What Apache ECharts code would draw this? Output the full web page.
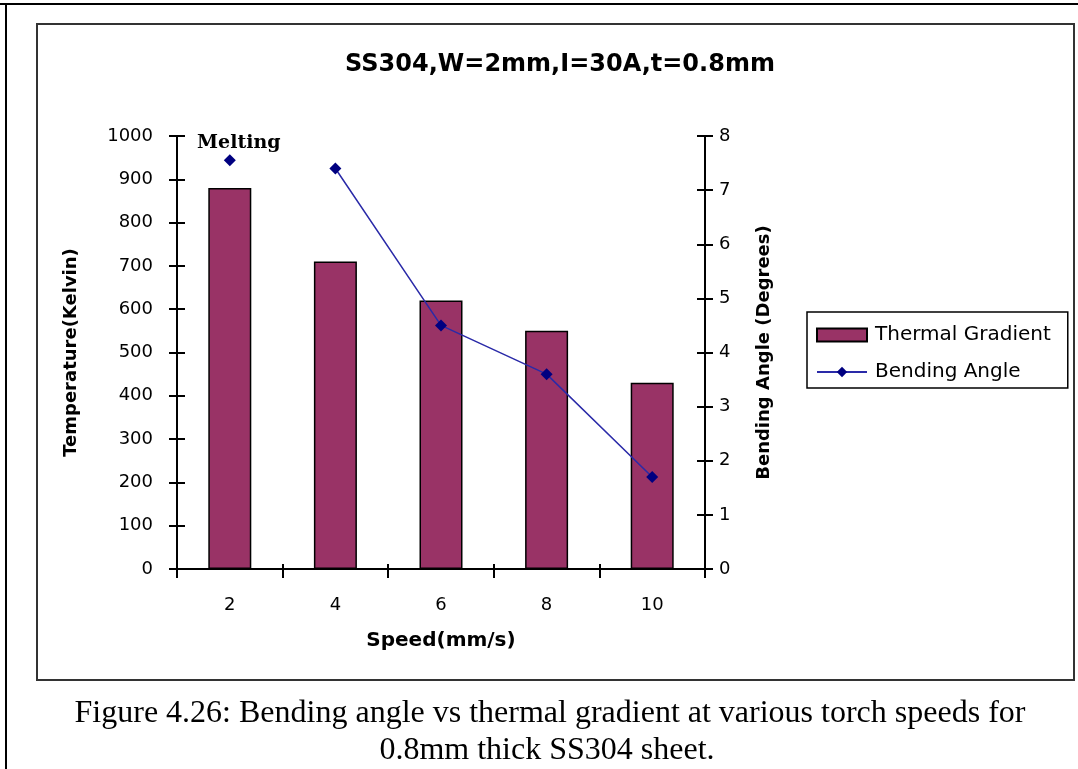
<!DOCTYPE html>
<html>
<head>
<meta charset="utf-8">
<script src="https://cdn.jsdelivr.net/npm/echarts@6/dist/echarts.min.js"></script>
<style>
html,body{margin:0;padding:0;background:#fff;}
#chart{width:1078px;height:769px;}
</style>
</head>
<body>
<div id="chart"></div>
<script>
var categories = ['2', '4', '6', '8', '10'];
var thermalGradient = [880, 710, 620, 550, 430];
var bendingAngle = [null, 7.4, 4.5, 3.6, 1.7];
var meltingPoint = [7.55, null, null, null, null];
var leftTicks = [0, 1000, 100];
var rightTicks = [0, 8, 1];

var chart = echarts.init(document.getElementById('chart'));
var sans = 'DejaVu Sans, Arial, sans-serif';
var serif = 'Liberation Serif, Times New Roman, serif';
var tick = {color: '#000', width: 2};
var option = {
  animation: false,
  backgroundColor: '#fff',
  title: [
    {text: 'SS304,W=2mm,I=30A,t=0.8mm', left: 555, top: 48, textAlign: 'center',
     textStyle: {fontFamily: sans, fontWeight: 'bold', fontSize: 24, color: '#000'}},
    {text: 'Figure 4.26: Bending angle vs thermal gradient at various torch speeds for', left: 545, top: 693, textAlign: 'center',
     textStyle: {fontFamily: serif, fontWeight: 'normal', fontSize: 32, color: '#000'}},
    {text: '0.8mm thick SS304 sheet.', left: 542, top: 730, textAlign: 'center',
     textStyle: {fontFamily: serif, fontWeight: 'normal', fontSize: 32, color: '#000'}}
  ],
  graphic: [
    {type: 'line', shape: {x1: 0, y1: 4, x2: 1078, y2: 4}, style: {stroke: '#000', lineWidth: 2}},
    {type: 'line', shape: {x1: 6, y1: 4, x2: 6, y2: 769}, style: {stroke: '#000', lineWidth: 2}},
    {type: 'rect', shape: {x: 37, y: 24, width: 1037, height: 656}, style: {fill: 'none', stroke: '#333', lineWidth: 2}}
  ],
  legend: {
    orient: 'vertical', left: 807, top: 312,
    data: [{name: 'Thermal Gradient', icon: 'rect'}, {name: 'Bending Angle'}],
    borderColor: '#000', borderWidth: 1.5, padding: [13, 17, 6, 9],
    itemWidth: 50, itemHeight: 13, itemGap: 17,
    textStyle: {fontFamily: sans, fontSize: 20, color: '#000', padding: [0, 0, 0, 3]}
  },
  grid: {left: 177, right: 373, top: 136, bottom: 200},
  xAxis: [
    {type: 'category', data: categories,
     axisLine: {lineStyle: {color: '#000', width: 2}},
     axisTick: {show: true, length: 9, lineStyle: tick},
     axisLabel: {fontFamily: sans, fontSize: 18, color: '#000', margin: 27},
     name: 'Speed(mm/s)', nameLocation: 'middle', nameGap: 62,
     nameTextStyle: {fontFamily: sans, fontSize: 20, fontWeight: 'bold', color: '#000'}},
    {type: 'category', data: categories, position: 'bottom', axisLine: {show: false},
     axisTick: {show: true, inside: true, length: 5, lineStyle: tick},
     axisLabel: {show: false}}
  ],
  yAxis: [
    {type: 'value', min: leftTicks[0], max: leftTicks[1], interval: leftTicks[2], position: 'left',
     axisLine: {show: true, lineStyle: {color: '#000', width: 2}},
     axisTick: {show: true, length: 8, lineStyle: tick},
     splitLine: {show: false},
     axisLabel: {fontFamily: sans, fontSize: 18, color: '#000', margin: 24,
                 formatter: function (v) { return String(v); }},
     name: 'Temperature(Kelvin)', nameLocation: 'middle', nameGap: 97, nameRotate: 90,
     nameTextStyle: {fontFamily: sans, fontSize: 18, fontWeight: 'bold', color: '#000'}},
    {type: 'value', min: rightTicks[0], max: rightTicks[1], interval: rightTicks[2], position: 'right',
     axisLine: {show: true, lineStyle: {color: '#000', width: 2}},
     axisTick: {show: true, length: 8, lineStyle: tick},
     splitLine: {show: false},
     axisLabel: {fontFamily: sans, fontSize: 18, color: '#000', margin: 14},
     name: 'Bending Angle (Degrees)', nameLocation: 'middle', nameGap: 50, nameRotate: 90,
     nameTextStyle: {fontFamily: sans, fontSize: 18, fontWeight: 'bold', color: '#000'}},
    {type: 'value', min: leftTicks[0], max: leftTicks[1], interval: leftTicks[2], position: 'left',
     axisLine: {show: false}, axisTick: {show: true, inside: true, length: 8, lineStyle: tick},
     splitLine: {show: false}, axisLabel: {show: false}},
    {type: 'value', min: rightTicks[0], max: rightTicks[1], interval: rightTicks[2], position: 'right',
     axisLine: {show: false}, axisTick: {show: true, inside: true, length: 8, lineStyle: tick},
     splitLine: {show: false}, axisLabel: {show: false}}
  ],
  series: [
    {name: 'Thermal Gradient', type: 'bar', data: thermalGradient, barWidth: 43, yAxisIndex: 0,
     itemStyle: {color: '#993366', borderColor: '#000', borderWidth: 1.5}},
    {name: 'Bending Angle', type: 'line', data: bendingAngle, yAxisIndex: 1,
     symbol: 'diamond', symbolSize: 12, connectNulls: false,
     lineStyle: {color: '#2a2aa8', width: 1.5}, itemStyle: {color: '#000080', opacity: 1}},
    {name: 'Melting', type: 'scatter', data: meltingPoint, yAxisIndex: 1,
     symbol: 'diamond', symbolSize: 12, itemStyle: {color: '#000080', opacity: 1},
     label: {show: true, formatter: 'Melting', position: 'top', offset: [9, 3],
             fontFamily: 'DejaVu Serif, serif', fontWeight: 'bold', fontSize: 19, color: '#000'}}
  ]
};
chart.setOption(option);
</script>
</body>
</html>
